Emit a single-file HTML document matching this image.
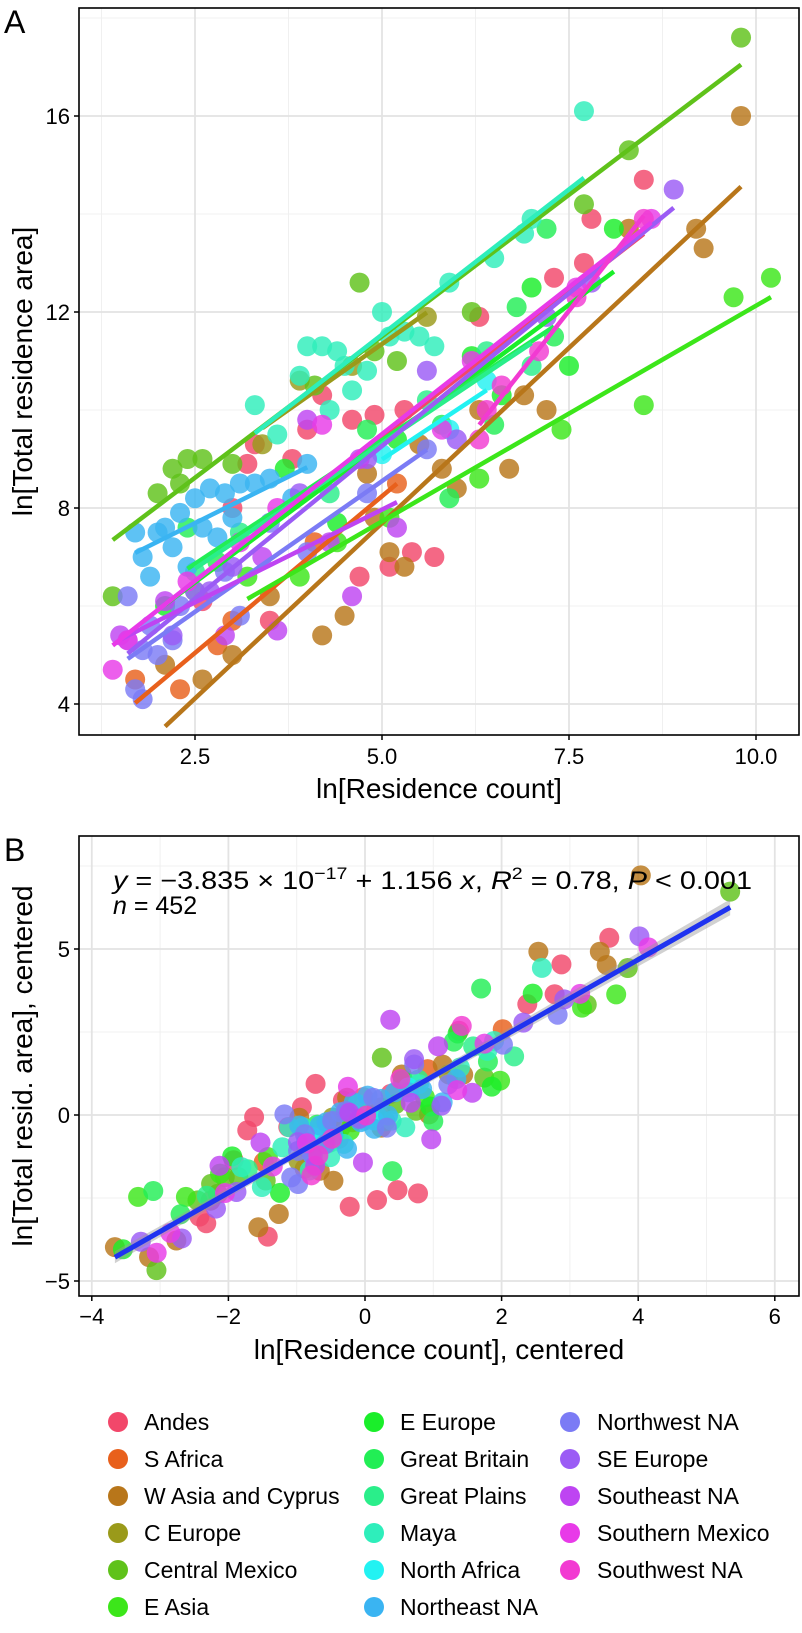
<!DOCTYPE html>
<html><head><meta charset="utf-8"><title>Residence count vs area</title>
<style>
html,body{margin:0;padding:0;background:#fff;}
svg{display:block;font-family:"Liberation Sans",Arial,sans-serif;}
</style></head>
<body>
<svg id="chart" width="802" height="1633" viewBox="0 0 802 1633" xmlns="http://www.w3.org/2000/svg">
<g id="panelA"></g>
<g id="panelB"></g>
<g id="legend"></g>
</svg>
<script>
const regions = ["Andes","S Africa","W Asia and Cyprus","C Europe","Central Mexico","E Asia","E Europe","Great Britain","Great Plains","Maya","North Africa","Northeast NA","Northwest NA","SE Europe","Southeast NA","Southern Mexico","Southwest NA"];
const colors = ["#F2476A","#E8601C","#B8761A","#9A9A1A","#5FC21A","#3CE61A","#1AEE2A","#22EE55","#2AEE8A","#2EEEBB","#22F2F2","#3AB4F2","#7B7BF5","#9B5CF5","#BE44F2","#E83AE8","#F23AD2"];
const xAndes=[8.5,7.8,7.7,7.3,6.3,4.6,4.9,5.3,4.0,3.8,3.2,3.3,5.1,4.7,5.7,2.5,2.6,3.5,3.0,4.2,5.4];
const yAndes=[14.7,13.9,13.0,12.7,11.9,9.8,9.9,10.0,9.6,9.0,8.9,9.3,6.8,6.6,7.0,6.3,6.1,5.7,8.0,10.3,7.1];
const xSAfrica=[2.3,1.7,3.0,4.1,5.2,2.8];
const ySAfrica=[4.3,4.5,5.7,7.3,8.5,5.2];
const xWAsia=[9.8,9.3,9.2,8.3,5.8,6.7,6.3,4.5,4.2,5.1,4.9,5.3,2.6,2.1,3.0,3.5,6.0,6.9,7.2,5.5,4.8];
const yWAsia=[16.0,13.3,13.7,13.7,8.8,8.8,10.0,5.8,5.4,7.1,7.8,6.8,4.5,4.8,5.0,6.2,8.4,10.3,10.0,9.3,8.7];
const xCEurope=[3.9,4.6,5.6,3.4];
const yCEurope=[10.6,10.9,11.9,9.3];
const xCMexico=[9.8,8.3,7.7,4.7,2.4,2.2,1.4,2.0,5.2,4.1,6.2,2.6,3.0,4.9,2.3];
const yCMexico=[17.6,15.3,14.2,12.6,9.0,8.8,6.2,8.3,11.0,10.5,12.0,9.0,8.9,11.2,8.5];
const xEAsia=[10.2,9.7,8.5,7.4,5.1,4.4,3.9,3.2,6.3];
const yEAsia=[12.7,12.3,10.1,9.6,7.8,7.3,6.6,6.6,8.6];
const xEEurope=[8.1,7.0,6.2,6.6,5.2,3.7,2.1,4.4,7.5];
const yEEurope=[13.7,12.5,11.1,10.3,9.4,8.8,6.0,7.7,10.9];
const xGBritain=[7.2,7.3,6.5,5.8,4.8,2.4,2.8,5.9,6.8];
const yGBritain=[13.7,11.5,9.7,9.7,9.6,7.6,6.9,8.2,12.1];
const xGPlains=[7.0,5.6,4.3,3.1,6.4,2.5];
const yGPlains=[10.9,10.2,8.3,7.5,11.2,6.7];
const xMaya=[7.7,7.0,6.9,6.5,5.9,5.0,5.3,4.0,4.2,4.4,4.5,5.5,5.7,3.3,3.6,4.3,4.8,3.9,4.6,5.1];
const yMaya=[16.1,13.9,13.6,13.1,12.6,12.0,11.6,11.3,11.3,11.2,10.9,11.5,11.3,10.1,9.5,10.0,10.8,10.7,10.4,11.5];
const xNAfrica=[5.9,5.0,6.4];
const yNAfrica=[9.6,9.1,10.6];
const xNENA=[1.7,1.8,2.0,2.1,2.3,2.5,2.7,2.9,3.1,3.3,3.5,2.6,2.2,3.8,1.9,2.4,3.0,4.0,2.8];
const yNENA=[7.5,7.0,7.5,7.6,7.9,8.2,8.4,8.3,8.5,8.5,8.6,7.6,7.2,8.2,6.6,6.8,7.8,8.9,7.4];
const xNWNA=[1.8,1.7,2.0,2.2,1.9,1.6,2.5,2.9,3.1,4.0,3.5,2.3,4.8,5.6,1.8];
const yNWNA=[4.1,4.3,5.0,5.3,5.6,6.2,6.3,6.7,5.8,7.1,7.7,6.0,8.3,9.2,5.1];
const xSEEurope=[8.9,7.8,7.2,5.6,3.9,3.0,2.7,2.2,6.0,4.8,1.6];
const ySEEurope=[14.5,12.6,11.9,10.8,8.3,6.8,6.3,5.4,9.4,9.0,5.3];
const xSENA=[1.5,2.1,3.4,4.6,3.6,4.3,4.7,4.0,2.9,5.2];
const ySENA=[5.4,6.1,7.0,6.2,5.5,7.3,9.0,9.8,5.4,7.6];
const xSMexico=[8.6,7.6,6.2,4.2,3.6,2.4,1.4,1.6,5.8,3.1];
const ySMexico=[13.9,12.5,11.0,9.7,8.0,6.5,4.7,5.3,9.6,7.3];
const xSWNA=[6.3,6.6,7.1,7.6,8.5,6.4];
const ySWNA=[9.4,10.5,11.2,12.3,13.9,10.0];
const xSeries=[xAndes,xSAfrica,xWAsia,xCEurope,xCMexico,xEAsia,xEEurope,xGBritain,xGPlains,xMaya,xNAfrica,xNENA,xNWNA,xSEEurope,xSENA,xSMexico,xSWNA];
const ySeries=[yAndes,ySAfrica,yWAsia,yCEurope,yCMexico,yEAsia,yEEurope,yGBritain,yGPlains,yMaya,yNAfrica,yNENA,yNWNA,ySEEurope,ySENA,ySMexico,ySWNA];
const aXTicks=[2.5,5.0,7.5,10.0];
const aXTickLabels=["2.5","5.0","7.5","10.0"];
const aYTicks=[4,8,12,16];
const aYTickLabels=["4","8","12","16"];
const bXTicks=[-4,-2,0,2,4,6];
const bXTickLabels=["\u22124","\u22122","0","2","4","6"];
const bYTicks=[-5,0,5];
const bYTickLabels=["\u22125","0","5"];

const NS="http://www.w3.org/2000/svg";
function mk(parent,tag,attrs){const e=document.createElementNS(NS,tag);for(const k in attrs)e.setAttribute(k,attrs[k]);parent.appendChild(e);return e;}
function fit(xs,ys){const n=xs.length;let mx=0,my=0;for(let i=0;i<n;i++){mx+=xs[i];my+=ys[i];}mx/=n;my/=n;let sxy=0,sxx=0;for(let i=0;i<n;i++){sxy+=(xs[i]-mx)*(ys[i]-my);sxx+=(xs[i]-mx)**2;}const b=sxx?sxy/sxx:0;return {b:b,a:my-b*mx,mx:mx,my:my};}

const A={l:79,r:799,t:8,b:735};
const ax=v=>195+(v-2.5)*74.8;
const ay=v=>116-(v-16)*49;
const B={l:79,r:799,t:836,b:1296};
const bx=v=>365+v*68.3;
const by=v=>1115-v*33.2;

function panel(g,P,xMinor,yMinor,sx,sy,xt,xtl,yt,ytl,ptitle,xtitle,ytitle,ytitleY,tickY){
  const grid=mk(g,'g',{});
  
  
  xMinor.forEach(v=>mk(grid,'line',{x1:sx(v),x2:sx(v),y1:P.t,y2:P.b,stroke:'#F0F0F0','stroke-width':1}));
  yMinor.forEach(v=>mk(grid,'line',{x1:P.l,x2:P.r,y1:sy(v),y2:sy(v),stroke:'#F0F0F0','stroke-width':1}));
  xt.forEach(v=>mk(grid,'line',{x1:sx(v),x2:sx(v),y1:P.t,y2:P.b,stroke:'#E3E3E3','stroke-width':1.8}));
  yt.forEach(v=>mk(grid,'line',{x1:P.l,x2:P.r,y1:sy(v),y2:sy(v),stroke:'#E3E3E3','stroke-width':1.8}));
  const ticks=mk(g,'g',{});
  
  
  xt.forEach((v,i)=>{mk(ticks,'line',{x1:sx(v),x2:sx(v),y1:P.b,y2:P.b+5,stroke:'#000','stroke-width':1.5});
    const t=mk(ticks,'text',{x:sx(v),y:tickY,'text-anchor':'middle','font-size':22});t.textContent=xtl[i];
    
    });
  yt.forEach((v,i)=>{mk(ticks,'line',{x1:P.l-5,x2:P.l,y1:sy(v),y2:sy(v),stroke:'#000','stroke-width':1.5});
    const t=mk(ticks,'text',{x:P.l-9,y:sy(v)+8,'text-anchor':'end','font-size':22});t.textContent=ytl[i];
    
    });
  const pl=mk(g,'text',{x:4,y:P.t+25,'font-size':32});pl.textContent=ptitle;
  
  
  const xl=mk(g,'text',{x:(P.l+P.r)/2,y:P.b+63,'text-anchor':'middle','font-size':28});xl.textContent=xtitle;
  
  
  const yl=mk(g,'text',{x:0,y:0,'text-anchor':'middle','font-size':28,transform:`translate(32,${ytitleY}) rotate(-90)`});yl.textContent=ytitle;
  
  
}

const gA=document.getElementById('panelA');
panel(gA,A,[1.25,3.75,6.25,8.75],[6,10,14,18],ax,ay,aXTicks,aXTickLabels,aYTicks,aYTickLabels,"A","ln[Residence count]","ln[Total residence area]",(A.t+A.b)/2,764);
const ptsA=mk(gA,'g',{});


xSeries.forEach((xs,r)=>{xs.forEach((x,i)=>{const c=mk(ptsA,'circle',{cx:ax(x),cy:ay(ySeries[r][i]),r:10,fill:colors[r],'fill-opacity':0.82});
  
  });});
const linesA=mk(gA,'g',{});


xSeries.forEach((xs,r)=>{const f=fit(xs,ySeries[r]);const x0=Math.min(...xs),x1=Math.max(...xs);
  const l=mk(linesA,'line',{x1:ax(x0),y1:ay(f.a+f.b*x0),x2:ax(x1),y2:ay(f.a+f.b*x1),stroke:colors[r],'stroke-width':4.5});
  
  });
mk(gA,'rect',{x:A.l,y:A.t,width:A.r-A.l,height:A.b-A.t,fill:'none',stroke:'#000','stroke-width':1.6});

const gB=document.getElementById('panelB');
panel(gB,B,[-3,-1,1,3,5],[-2.5,2.5,7.5],bx,by,bXTicks,bXTickLabels,bYTicks,bYTickLabels,"B","ln[Residence count], centered","ln[Total resid. area], centered",(B.t+B.b)/2,1324);
const cx=[],cy=[],cr=[];
xSeries.forEach((xs,r)=>{const f=fit(xs,ySeries[r]);xs.forEach((x,i)=>{cx.push(x-f.mx);cy.push(ySeries[r][i]-f.my);cr.push(r);});});
const ptsB=mk(gB,'g',{});


cx.forEach((x,i)=>{const c=mk(ptsB,'circle',{cx:bx(x),cy:by(cy[i]),r:10,fill:colors[cr[i]],'fill-opacity':0.82});
  
  });
const fb=fit(cx,cy);const bx0=Math.min(...cx),bx1=Math.max(...cx);
const band=mk(gB,'polygon',{points:`${bx(bx0)},${by(fb.a+fb.b*bx0)-6} ${bx(0)},${by(fb.a)-3} ${bx(bx1)},${by(fb.a+fb.b*bx1)-8} ${bx(bx1)},${by(fb.a+fb.b*bx1)+8} ${bx(0)},${by(fb.a)+3} ${bx(bx0)},${by(fb.a+fb.b*bx0)+6}`,fill:'#999','fill-opacity':0.45});


const rl=mk(gB,'line',{x1:bx(bx0),y1:by(fb.a+fb.b*bx0),x2:bx(bx1),y2:by(fb.a+fb.b*bx1),stroke:'#1F33F0','stroke-width':5});


const eq=mk(gB,'text',{x:113,y:889,'font-size':25,textLength:639,lengthAdjust:'spacingAndGlyphs'});
eq.innerHTML='<tspan font-style="italic">y</tspan> = \u22123.835 \u00d7 10<tspan dy="-10" font-size="17">\u221217</tspan><tspan dy="10"> + 1.156 </tspan><tspan font-style="italic">x</tspan>, <tspan font-style="italic">R</tspan><tspan dy="-10" font-size="17">2</tspan><tspan dy="10"> = 0.78, </tspan><tspan font-style="italic">P</tspan> &lt; 0.001';


const nt=mk(gB,'text',{x:113,y:914,'font-size':25});
nt.innerHTML='<tspan font-style="italic">n</tspan> = 452';


mk(gB,'rect',{x:B.l,y:B.t,width:B.r-B.l,height:B.b-B.t,fill:'none',stroke:'#000','stroke-width':1.6});

const gL=document.getElementById('legend');
const colX=[118,374,570],txtX=[144,400,597];
regions.forEach((name,i)=>{const col=i<6?0:(i<12?1:2);const row=i<6?i:(i<12?i-6:i-12);const y=1422+row*37;
  const e=mk(gL,'g',{});
  
  
  mk(e,'circle',{cx:colX[col],cy:y,r:10,fill:colors[i]});
  const t=mk(e,'text',{x:txtX[col],y:y+8,'font-size':23});t.textContent=name;});
</script>
</body></html>
